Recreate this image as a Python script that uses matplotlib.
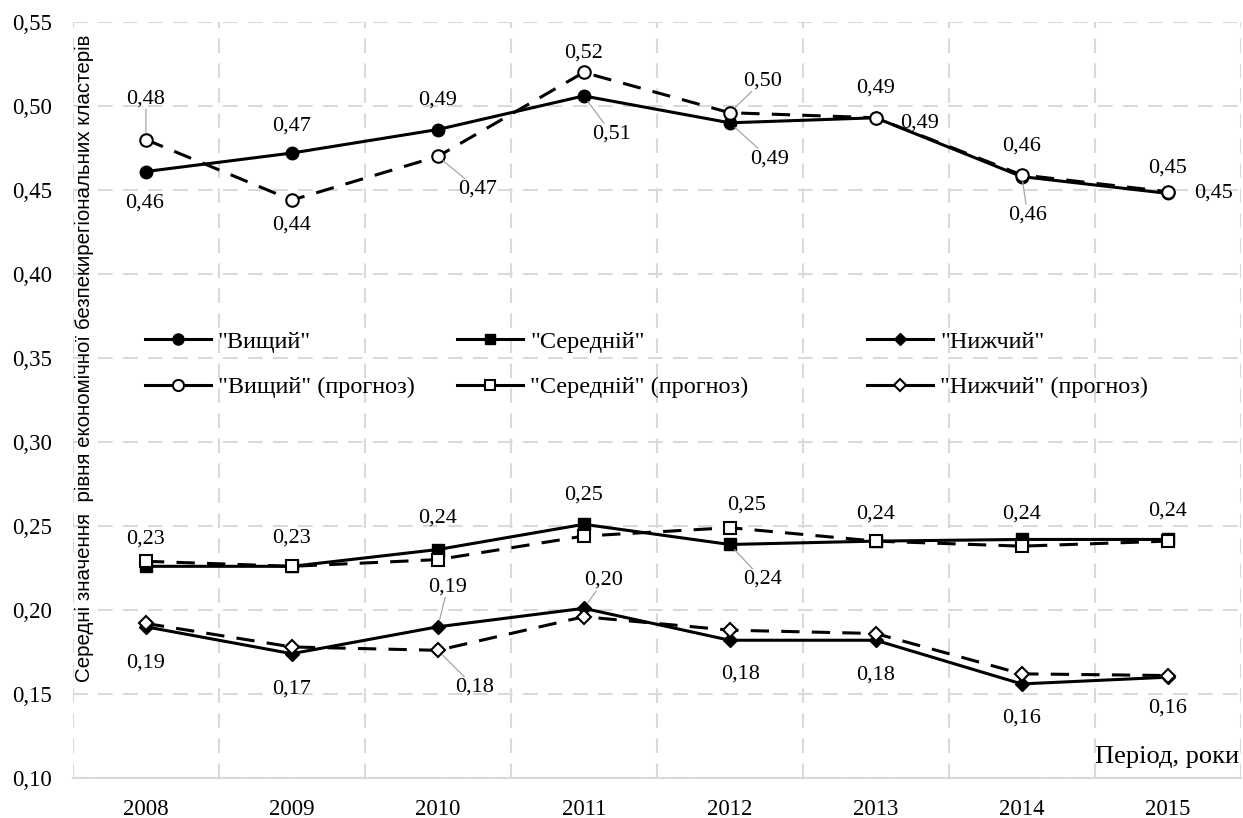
import numpy as np
import matplotlib
matplotlib.use("Agg")
import matplotlib.pyplot as plt
from matplotlib.lines import Line2D
from matplotlib.legend import Legend

plt.rcParams['font.family'] = ['Liberation Serif', 'DejaVu Serif']

# data
years = ['2008', '2009', '2010', '2011', '2012', '2013', '2014', '2015']
high = [0.461, 0.472, 0.486, 0.506, 0.490, 0.493, 0.458, 0.448]
high_f = [0.480, 0.444, 0.470, 0.520, 0.496, 0.493, 0.459, 0.449]
mid = [0.226, 0.226, 0.236, 0.251, 0.239, 0.241, 0.242, 0.242]
mid_f = [0.229, 0.226, 0.230, 0.244, 0.249, 0.241, 0.238, 0.241]
low = [0.190, 0.174, 0.190, 0.201, 0.182, 0.182, 0.156, 0.160]
low_f = [0.192, 0.178, 0.176, 0.196, 0.188, 0.186, 0.162, 0.161]

names = ['"Вищий"', '"Середній"', '"Нижчий"',
         '"Вищий" (прогноз)', '"Середній" (прогноз)', '"Нижчий" (прогноз)']

# label placement: (series, index, dx, dy, leader) in pixels
labels = [
    ('high', 0, -1, -32, False), ('high', 1, 0, 27, False), ('high', 2, 0, 29, False),
    ('high', 3, 28, -38, True), ('high', 4, 40, -36, True), ('high', 5, 0, 30, False),
    ('high', 6, 0, 31, False), ('high', 7, 46, 0, False),
    ('high_f', 0, 0, 41, True), ('high_f', 1, 0, -25, False), ('high_f', 2, 40, -33, True),
    ('high_f', 3, 0, 19, False), ('high_f', 4, 33, 32, True), ('high_f', 5, 44, -5, False),
    ('high_f', 6, 6, -40, True), ('high_f', 7, 0, 24, False),
    ('mid', 1, 0, 28, False), ('mid', 2, 0, 31, False), ('mid', 3, 0, 29, False),
    ('mid', 4, 33, -35, True), ('mid', 5, 0, 27, False), ('mid', 7, 0, 28, False),
    ('mid_f', 0, 0, 22, False), ('mid_f', 4, 17, 23, False), ('mid_f', 6, 0, 32, False),
    ('low', 0, 0, -36, False), ('low', 1, 0, -35, False), ('low', 2, 10, 40, True),
    ('low', 3, 20, 28, True), ('low', 4, 11, -34, False), ('low', 5, 0, -35, False),
    ('low', 6, 0, -34, False), ('low', 7, 0, -31, False),
    ('low_f', 2, 37, -37, True),
]

series = {'high': high, 'high_f': high_f, 'mid': mid, 'mid_f': mid_f, 'low': low, 'low_f': low_f}

fig = plt.figure(figsize=(12.43, 8.18), dpi=100)
ax = fig.add_axes([0.0587, 0.0489, 0.9393, 0.9242])
x = np.arange(len(years))

lw = 2.2
dash = (6, 4)
ax.plot(x, high, '-', color='black', lw=lw, marker='o', ms=9, zorder=3)
ax.plot(x, mid, '-', color='black', lw=lw, marker='s', ms=8, zorder=3)
ax.plot(x, low, '-', color='black', lw=lw, marker='D', ms=7, zorder=3)
ax.plot(x, high_f, color='black', lw=lw, dashes=dash, marker='o', ms=9,
        mfc='white', mec='black', mew=1.5, zorder=4)
ax.plot(x, mid_f, color='black', lw=lw, dashes=dash, marker='s', ms=8,
        mfc='white', mec='black', mew=1.5, zorder=4)
ax.plot(x, low_f, color='black', lw=lw, dashes=dash, marker='D', ms=7,
        mfc='white', mec='black', mew=1.5, zorder=4)

for key, i, dx, dy, leader in labels:
    v = series[key][i]
    txt = f"{v:.2f}".replace('.', ',')
    kw = {}
    if leader:
        kw['arrowprops'] = dict(arrowstyle='-', color='#a6a6a6', lw=0.9,
                                shrinkA=0, shrinkB=5)
    ax.annotate(txt, (x[i], v), xytext=(dx, dy), textcoords='offset pixels',
                ha='center', va='center', fontsize=16, zorder=5,
                bbox=dict(boxstyle='square,pad=0.05', fc='none', ec='none'), **kw)

ax.set_xlim(-0.5, 7.5)
ax.set_ylim(0.10, 0.55)
ax.set_xticks(x)
ax.set_xticklabels(years)
ax.set_xticks(np.arange(-0.5, 8, 1), minor=True)
yt = np.arange(0.10, 0.551, 0.05)
ax.set_yticks(yt)
ax.set_yticklabels([f"{t:.2f}".replace('.', ',') for t in yt])
ax.tick_params(axis='both', which='both', length=0, labelsize=16.5)
ax.tick_params(axis='y', pad=15)
ax.tick_params(axis='x', pad=15)

ax.grid(True, axis='y', which='major', color='#d9d9d9', lw=1.5, ls=(0, (7, 5)))
ax.grid(True, axis='x', which='minor', color='#d9d9d9', lw=1.5, ls=(0, (7, 5)))
ax.set_axisbelow(True)
for s in ['top', 'right', 'left']:
    ax.spines[s].set_visible(False)
ax.spines['bottom'].set_color('#d9d9d9')
ax.spines['bottom'].set_linewidth(1.5)

# legend, one per column
markers = ['o', 's', 'D']
col_x = [0.0533, 0.321, 0.672]
for c in range(3):
    ms = 8 if c == 0 else 6.5
    h1 = Line2D([], [], color='black', lw=lw, marker=markers[c], ms=ms)
    h2 = Line2D([], [], color='black', lw=lw, marker=markers[c], ms=ms,
                mfc='white', mec='black', mew=1.5)
    leg = Legend(ax, [h1, h2], [names[c], names[c + 3]], loc='center left',
                 bbox_to_anchor=(col_x[c], 0.547), frameon=False, fontsize=17.5,
                 handlelength=2.7, handletextpad=0.3, labelspacing=0.95,
                 borderaxespad=0)
    ax.add_artist(leg)

ax.text(0.9985, 0.028, 'Період, роки', transform=ax.transAxes, ha='right',
        va='center', fontsize=19)
fig.text(0.0676, 0.5623, 'Середні значення  рівня економічної безпекирегіональних кластерів',
         rotation=90, ha='center', va='center', fontsize=14.8,
         family=['Liberation Sans Narrow', 'Liberation Sans', 'DejaVu Sans'])

fig.savefig('out.png', dpi=100)
